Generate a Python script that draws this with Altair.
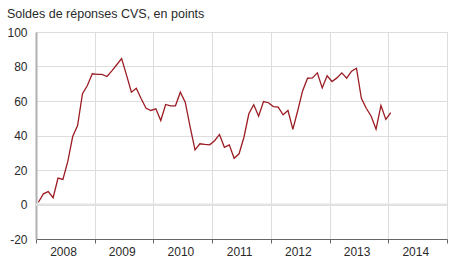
import altair as alt
import pandas as pd

years = [2008, 2009, 2010, 2011, 2012, 2013, 2014]
v2008 = [1.3, 6.2, 7.5, 3.9, 15.3, 14.5, 25.0, 39.4, 45.8, 64.2, 69.0, 75.8]
v2009 = [75.4, 75.4, 74.2, 77.5, 81.0, 84.6, 75.0, 65.1, 67.4, 61.3, 55.8, 54.5]
v2010 = [55.5, 48.7, 58.0, 57.2, 57.2, 65.1, 59.3, 45.0, 31.7, 35.2, 34.8, 34.6]
v2011 = [37.0, 40.6, 33.2, 34.6, 26.8, 29.4, 39.0, 52.6, 57.8, 51.2, 59.7, 59.0]
v2012 = [56.8, 56.4, 52.0, 54.5, 43.5, 54.5, 66.0, 73.2, 73.4, 76.3, 67.6, 74.6]
v2013 = [71.3, 73.4, 76.3, 73.2, 77.3, 79.0, 61.6, 55.8, 51.2, 43.7, 57.4, 49.3]
v2014 = [53.2]
y_ticks = [-20, 0, 20, 40, 60, 80, 100]
x_ticks = [2008, 2009, 2010, 2011, 2012, 2013, 2014, 2015]

series = [v2008, v2009, v2010, v2011, v2012, v2013, v2014]
rows = []
for y, vals in zip(years, series):
    for m, v in enumerate(vals):
        rows.append({"t": y + (m + 0.5) / 12.0, "value": v})
df = pd.DataFrame(rows)

font = "Liberation Sans"
text_color = "#2a2a2a"

y_axis = alt.Axis(
    title=None,
    values=y_ticks,
    labelExpr="toString(datum.value)",
    ticks=False,
    labelPadding=9,
    domainColor="#b0b0b0",
    domainWidth=2,
    labelFont=font,
    labelFontSize=12,
    labelColor=text_color,
    gridColor="#dddddd",
    labelOverlap=False,
    labelFlush=False,
)
y_scale = alt.Scale(domain=[-20, 100], nice=False)

line = alt.Chart(df).mark_line(color="#9b1c23", strokeWidth=1.3).encode(
    x=alt.X(
        "t:Q",
        scale=alt.Scale(domain=[2008, 2015], nice=False, zero=False),
        axis=alt.Axis(
            title=None,
            values=x_ticks,
            labelExpr="datum.value < 2015 ? toString(datum.value) : ''",
            labelOffset=27,
            labelPadding=3,
            tickSize=4,
            tickColor="#666666",
            domainColor="#666666",
            labelFont=font,
            labelFontSize=12,
            labelColor=text_color,
            gridColor="#dddddd",
            labelFlush=False,
            labelOverlap=False,
        ),
    ),
    y=alt.Y("value:Q", scale=y_scale, axis=y_axis),
)

zero = alt.Chart(pd.DataFrame({"value": [0]})).mark_rule(color="#e4e4e4", strokeWidth=2).encode(
    y=alt.Y("value:Q", scale=y_scale, axis=y_axis)
)

chart = (
    alt.layer(zero, line)
    .properties(
        width=411,
        height=207,
        padding={"left": 36, "top": 32, "right": 3, "bottom": 40},
        autosize=alt.AutoSizeParams(type="none"),
        title=alt.TitleParams(
            "Soldes de réponses CVS, en points",
            anchor="start",
            frame="group",
            dx=-29,
            offset=6,
            font=font,
            fontSize=12.5,
            fontWeight="normal",
            color=text_color,
        ),
    )
    .configure_view(stroke=None)
    .configure(background="white")
)

chart.save("out.html", embed_options={"renderer": "svg", "actions": False})
